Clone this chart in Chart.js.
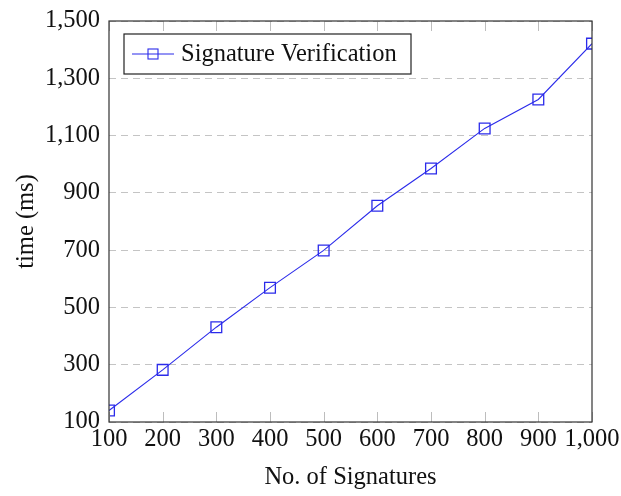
<!DOCTYPE html>
<html>
<head>
<meta charset="utf-8">
<script src="https://cdn.jsdelivr.net/npm/chart.js@4/dist/chart.umd.min.js"></script>
<style>
  html, body { margin: 0; padding: 0; background: #fff; }
  #wrap { width: 621px; height: 496px; }
</style>
</head>
<body>
<div id="wrap"><canvas id="chart" width="621" height="496"></canvas></div>
<script>
// data
const signatureCounts = [100, 200, 300, 400, 500, 600, 700, 800, 900, 1000];
const verifyTimes = [140, 282, 431, 569, 699, 855, 985, 1125, 1226, 1421];
const seriesLabel = 'Signature Verification';
const xTitle = 'No. of Signatures';
const yTitle = 'time (ms)';

const FONT = '"Liberation Serif", "Times New Roman", serif';
const FSIZE = 24.5;
const BLUE = '#2b2bea';

// pgfplots-like frame, inner x tick marks, boxed legend
const framePlugin = {
  id: 'frame',
  afterDatasetsDraw(chart) {
    const { ctx, chartArea: a, scales } = chart;
    ctx.save();
    // inner tick marks on x axis
    ctx.strokeStyle = '#bdbdbd';
    ctx.lineWidth = 1;
    signatureCounts.forEach(v => {
      const x = Math.round(scales.x.getPixelForValue(v)) + 0.5;
      ctx.beginPath();
      ctx.moveTo(x, a.bottom); ctx.lineTo(x, a.bottom - 10);
      ctx.moveTo(x, a.top); ctx.lineTo(x, a.top + 10);
      ctx.stroke();
    });
    // frame
    ctx.strokeStyle = '#333';
    ctx.lineWidth = 1.2;
    ctx.strokeRect(a.left, a.top, a.right - a.left, a.bottom - a.top);

    // legend box
    const lx = 124, ly = 34, lw = 287, lh = 40;
    ctx.fillStyle = '#fff';
    ctx.fillRect(lx, ly, lw, lh);
    ctx.strokeStyle = '#222';
    ctx.lineWidth = 1.2;
    ctx.strokeRect(lx, ly, lw, lh);
    const my = ly + lh / 2;
    ctx.strokeStyle = BLUE;
    ctx.lineWidth = 1.1;
    ctx.beginPath();
    ctx.moveTo(132, my); ctx.lineTo(174, my);
    ctx.stroke();
    ctx.strokeRect(148, my - 5, 10, 10);
    ctx.fillStyle = '#111';
    ctx.font = FSIZE + 'px ' + FONT;
    ctx.textBaseline = 'middle';
    ctx.textAlign = 'left';
    ctx.fillText(seriesLabel, 181, my + 1);
    ctx.restore();
  }
};

new Chart(document.getElementById('chart'), {
  type: 'line',
  data: {
    labels: signatureCounts,
    datasets: [{
      label: seriesLabel,
      data: signatureCounts.map((x, i) => ({ x: x, y: verifyTimes[i] })),
      borderColor: BLUE,
      borderWidth: 1.1,
      backgroundColor: 'transparent',
      pointStyle: 'rect',
      pointRadius: 7.6,
      pointBorderColor: BLUE,
      pointBorderWidth: 1.3,
      pointBackgroundColor: 'transparent',
      tension: 0,
      fill: false
    }]
  },
  options: {
    responsive: false,
    animation: false,
    layout: { padding: { top: 21, right: 29, left: 0, bottom: 0 } },
    plugins: {
      legend: { display: false },
      tooltip: { enabled: false }
    },
    scales: {
      x: {
        type: 'linear',
        min: 100,
        max: 1000,
        afterFit(scale) {
          scale.height = 74;
          scale.paddingLeft = 0;
          scale.paddingRight = 0;
        },
        ticks: {
          stepSize: 100,
          autoSkip: false,
          padding: 3,
          maxRotation: 0,
          color: '#111',
          font: { family: FONT, size: FSIZE },
          callback: v => v.toLocaleString('en-US')
        },
        grid: { display: false, drawTicks: false },
        border: { display: false },
        title: {
          display: true,
          text: xTitle,
          color: '#111',
          font: { family: FONT, size: FSIZE },
          padding: { top: 0, bottom: 4 }
        }
      },
      y: {
        min: 100,
        max: 1500,
        afterFit(scale) {
          scale.width = 109;
          scale.paddingTop = 0;
          scale.paddingBottom = 0;
        },
        ticks: {
          stepSize: 200,
          autoSkip: false,
          padding: 9,
          color: '#111',
          font: { family: FONT, size: FSIZE },
          callback: v => v.toLocaleString('en-US')
        },
        grid: { color: '#c4c4c4', lineWidth: 1, drawTicks: false },
        border: { display: false, dash: [7, 5] },
        title: {
          display: true,
          text: yTitle,
          color: '#111',
          font: { family: FONT, size: FSIZE },
          padding: { top: 12, bottom: 0 }
        }
      }
    }
  },
  plugins: [framePlugin]
});
</script>
</body>
</html>
